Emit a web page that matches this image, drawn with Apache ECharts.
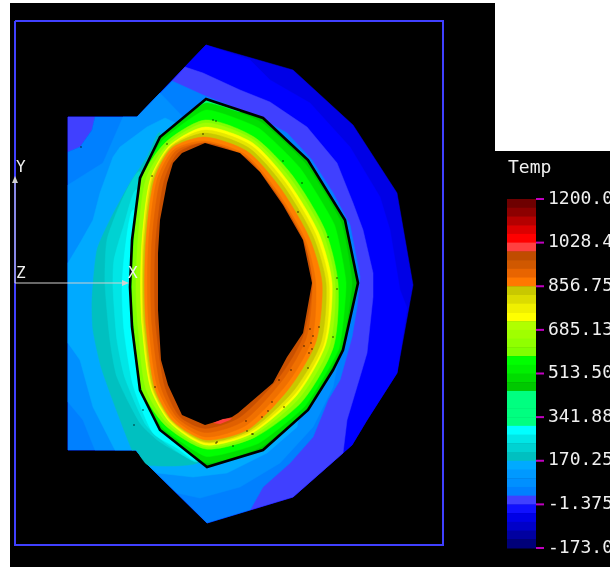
<!DOCTYPE html>
<html><head><meta charset="utf-8">
<style>html,body{margin:0;padding:0;background:#fff}#c{width:610px;height:567px}</style>
<script src="https://cdn.jsdelivr.net/npm/echarts@6/dist/echarts.min.js"></script>
</head><body><div id="c"></div>
<script>
// Colour bar, top (hot) to bottom (cold)
const barColors = ['#6e0000','#8c0000','#b40000','#dc0000','#ff0000','#ff4040','#c04c00','#d05800','#e86400','#ff7800',
'#c8c800','#dcdc00','#f0f000','#ffff00','#b0ff00','#a0ff00','#90ff00','#80ff00','#00ff00','#00f000','#00dc00','#00c800',
'#00ff80','#00ff80','#00ff80','#00ff80','#00ffff','#00e6e6','#00d2d2','#00c0c0','#00aaff','#0099ff','#0090ff','#0080ff',
'#4040ff','#1010ff','#0000e6','#0000c8','#0000a0','#000078'];
const tickValues = [1200,1028.4,856.75,685.13,513.5,341.88,170.25,-1.375,-173];
const tickLabels = ['1200.0','1028.4','856.75','685.13','513.50','341.88','170.25','-1.375','-173.0'];
const legendTitle = 'Temp';

// Contour bands: [x, y] vertices, painted outermost first
const body = [[68,117],[137,117],[206,45],[293,70],[353,125],[397,193],[413,285],[397,373],[367,420],[352,445],[293,497],[207,523],[148,465],[136,450],[68,450]];
const blue = [[206,45],[250,60],[270,80],[310,103],[350,147],[380,197],[390,230],[400,290],[407,308],[397,373],[367,420],[352,445],[293,497],[207,523],[148,465],[136,450],[68,450],[68,117],[137,117]];
const violet = [[172,81],[185,67],[203,73],[240,90],[270,102],[307,127],[337,163],[353,203],[363,230],[373,273],[373,297],[367,353],[362,370],[347,420],[343,453],[293,497],[250,510]];
const violetCorner = [[68,117],[95,117],[92,130],[80,147],[68,152],[68,117]];
const sky1 = [[172,81],[203,95],[260,118],[287,133],[312,160],[333,193],[350,225],[360,277],[357,307],[352,337],[340,380],[328,400],[313,437],[290,463],[263,487],[250,510],[207,523],[148,465],[136,450],[68,450],[68,152],[80,147],[92,130],[95,117],[137,117]];
const sky2 = [[160,93],[183,117],[210,200],[338,362],[333,387],[313,427],[280,463],[240,487],[200,498],[177,493],[148,465],[136,450],[95,450],[83,420],[68,402],[68,185],[103,163],[123,117],[137,117]];
const sky3 = [[178,124],[165,118],[147,127],[120,147],[113,157],[100,193],[93,220],[80,243],[68,263],[68,343],[80,360],[93,407],[115,450],[136,450],[148,465],[157,473],[193,477],[227,473],[267,453],[297,427],[300,410],[210,200]];
const teal1 = [[160,133],[147,157],[130,183],[110,220],[97,250],[92,300],[93,330],[102,370],[132,450],[136,450],[148,465],[198,463],[205,440],[210,300]];
const teal2 = [[140,172],[122,200],[107,240],[105,283],[110,340],[117,377],[140,423],[160,442],[192,458],[205,440],[210,300]];
const teal3 = [[137,190],[124,225],[114,260],[113,287],[117,340],[125,378],[146,425],[168,445],[197,462],[205,440],[210,300]];
const cyan = [[134,210],[125,250],[122,287],[124,330],[133,385],[153,433],[177,448],[195,460],[205,440],[210,300]];
const wall = [[206,99],[263,118],[308,160],[345,220],[358,283],[343,350],[333,370],[308,410],[263,450],[207,467],[160,430],[140,390],[132,327],[130,287],[132,240],[140,178],[160,137]];
const spring = [[206,100],[180,120],[182,123],[208,106],[240,112],[240,110]];
const k1 = [[206,103],[261,122],[305,163],[341,222],[352,283],[341,349],[306.6,408],[261,447],[207,463],[161,429],[141,390],[133,327],[131,287],[133,240],[141,178],[161,138]];
const k2 = [[206,110],[258.5,128],[300,168],[334.5,225],[346,283],[339,348.5],[305,406],[258.5,443.3],[206.5,456.5],[163,428],[141,390],[133,327],[131,287],[133,240],[141,178],[163,140]];
const k3 = [[205.5,120],[254,137],[292,175],[325,230],[338,283],[333.5,346.7],[302,401.6],[254.5,437.4],[206,449],[166,426],[142,390],[134,327],[132,287],[134,240],[142,178],[166,142]];
const k4 = [[205.5,123],[253,139.5],[290,178],[322,231],[335,283],[329.7,345.4],[299.3,398],[253,435.2],[206,447],[168,424],[146,389],[138,327],[136,287],[138,240],[146,179],[168,144]];
const k5 = [[205.4,127],[252,142.5],[287,180],[318.5,232.5],[332,283],[325.8,344],[297,395],[251.8,433.4],[206,445],[170.5,423],[150.6,388],[142,326],[140.6,287],[142,240],[150,180],[169.6,145.6]];
const k6 = [[205.3,130],[250.4,145],[285,182],[315.6,234],[329,283],[324,343.4],[295.7,393],[250.8,432],[206,443],[171.4,422],[152,388],[143,326],[142,287],[143,240],[151,180],[170.4,146.4]];
const k7 = [[205.2,133],[249,148],[282.6,184.6],[312.7,235.4],[326,283],[321,342.3],[293.7,390.6],[249.8,430.4],[206,442],[172.3,421.6],[153,388],[144.4,326],[143,287],[144.4,240],[152.4,180.3],[171,147]];
const k8 = [[205,137],[247.5,151.5],[280,187.5],[309,237],[322,283],[316.3,340.7],[290.6,386.4],[248.8,429],[206,440],[173,421],[154.6,387.4],[146,326],[144.6,287],[146,240],[154,180.6],[172,148]];
const k9 = [[205,141],[246,155],[276.6,190.4],[305,239],[315.7,283],[312,339],[288,382.6],[246.3,425.2],[205.6,437],[175.4,419.5],[157.4,387],[148.7,326],[147.4,287],[148.7,240],[156.7,181],[174,149.6]];
const k10 = [[205,143],[245,157],[275,192],[303,240],[312,283],[306.5,337],[284,378],[243.5,421],[205.4,432.6],[177.6,418],[160.7,386.3],[152,325.5],[150.7,287],[152,240],[160,181.7],[176,151]];
const k11 = [[205,143],[245,157],[275,192],[303,240],[312,283],[303,336],[281,374.6],[240.5,416.7],[205.2,428.4],[179.8,416.5],[164.6,385.6],[155.8,325],[154.6,287],[155.8,240],[163.8,182.4],[178,153]];
const hole = [[205,143],[182,153],[173,163],[167,183],[160,220],[158,253],[158,310],[161,360],[168,385],[182,415],[205,425],[232,417],[238,413],[273,383],[287,357],[303,333],[312,283],[303,240],[283,205],[260,172],[240,153]];
const hotSliver = [[213,423],[223,419],[232,418],[230,420],[220,424]];
const specks = [[328,237],[337,278],[337,289],[319,327],[310,329],[313,336],[333,337],[304,346],[311,343],[312,349],[309,353],[308,368],[291,370],[279,380],[272,402],[284,407],[268,411],[262,417],[81,147],[213,120],[216,121],[203,134],[167,144],[152,176],[283,161],[302,183],[298,212],[155,387],[143,410],[134,425],[216,443],[233,446],[247,431],[253,434],[246,421],[252,434],[217,442]];
const frame = [[15,21],[443,21],[443,545],[15,545],[15,21]];

const bands = [
 [body,'#0000e6',0],[blue,'#0000ff',0],[violet,'#4040ff',0],[violetCorner,'#4040ff',0],[sky1,'#0080ff',0],[sky2,'#0090ff',0],[sky3,'#00aaff',0],
 [teal1,'#00c0c0',0.2],[teal2,'#00d2d2',0.2],[teal3,'#00e6e6',0.2],[cyan,'#00ffff',0.2],
 [wall,'#00c800',0],[spring,'#00ff80',0],[k1,'#00e000',0.15],[k2,'#00ff00',0.15],[k3,'#80ff00',0.25],[k4,'#a0ff00',0.25],[k5,'#ffff00',0.25],[k6,'#e6e600',0.25],[k7,'#c8c800',0.25],
 [k8,'#ff8000',0.25],[k9,'#f07000',0.25],[k10,'#e06000',0.25],[k11,'#c85000',0.25]
];
const overlays = [[wall,null,'#000',2.6],[hole,'#000',null,0],[hotSliver,'#ff4040',null,0]];
const MONO = '"DejaVu Sans Mono","Liberation Mono",monospace';
const triad = '#d0d0d0';
const barStep = (1200 + 173) / barColors.length;

const chart = echarts.init(document.getElementById('c'), null, {renderer:'canvas'});
chart.setOption({
 animation:false,
 backgroundColor:'#ffffff',
 grid:[{left:0,top:0,width:610,height:567,outerBoundsMode:'none'},{left:507,top:199,width:29,height:349,outerBoundsMode:'none'}],
 xAxis:[{type:'value',min:0,max:610,show:false,gridIndex:0},{type:'value',min:0,max:1,show:false,gridIndex:1}],
 yAxis:[{type:'value',min:0,max:567,inverse:true,show:false,gridIndex:0},
  {type:'value',min:-173,max:1200,gridIndex:1,position:'right',splitLine:{show:false},
   axisLine:{show:false},axisTick:{show:false},
   axisLabel:{show:true,margin:12,customValues:tickValues,color:'#f0f0f0',fontFamily:MONO,fontSize:18,
     formatter:v=>tickLabels[tickValues.indexOf(v)]}}],
 graphic:[
  {type:'rect',z:-10,shape:{x:10,y:3,width:485,height:564},style:{fill:'#000'}},
  {type:'rect',z:-10,shape:{x:495,y:151,width:115,height:416},style:{fill:'#000'}},
  {type:'polyline',z:100,shape:{points:[[15,283],[15,178]]},style:{stroke:triad,lineWidth:1,fill:null}},
  {type:'polyline',z:100,shape:{points:[[15,283],[127,283]]},style:{stroke:triad,lineWidth:1,fill:null}},
  {type:'polygon',z:100,shape:{points:[[15,176],[12,183],[18,183]]},style:{fill:triad}},
  {type:'polygon',z:100,shape:{points:[[129,283],[122,280],[122,286]]},style:{fill:triad}},
  {type:'text',z:100,style:{x:16,y:160,text:'Y',fill:'#f0f0f0',font:'16px '+MONO}},
  {type:'text',z:100,style:{x:16,y:266,text:'Z',fill:'#f0f0f0',font:'16px '+MONO}},
  {type:'text',z:100,style:{x:128,y:266,text:'X',fill:'#f0f0f0',font:'16px '+MONO}},
  {type:'text',z:100,style:{x:508,y:159,text:legendTitle,fill:'#f0f0f0',font:'18px '+MONO}}
 ],
 series:[
  {type:'custom',xAxisIndex:0,yAxisIndex:0,silent:true,clip:false,data:bands.map((b,i)=>[i]),
   encode:{x:0,y:0},
   renderItem:(p,api)=>{
     const b=bands[p.dataIndex];
     return {type:'polygon',shape:{points:b[0].map(c=>api.coord(c)),smooth:b[2]},
       style:{fill:b[1],stroke:b[1],lineWidth:0.5}};
   }},
  {type:'custom',xAxisIndex:0,yAxisIndex:0,silent:true,clip:false,z:3,data:overlays.map((b,i)=>[i]),encode:{x:0,y:0},
   renderItem:(p,api)=>{
     const o=overlays[p.dataIndex];
     return {type:'polygon',shape:{points:o[0].map(c=>api.coord(c))},style:{fill:o[1],stroke:o[2],lineWidth:o[3]}};
   }},
  {type:'custom',xAxisIndex:0,yAxisIndex:0,silent:true,clip:false,z:4,data:[0],encode:{x:0,y:0},
   renderItem:(p,api)=>({type:'polyline',shape:{points:frame.map(c=>api.coord(c))},style:{fill:null,stroke:'#4040ff',lineWidth:2}})},
  {type:'scatter',xAxisIndex:0,yAxisIndex:0,silent:true,z:5,symbolSize:1.6,itemStyle:{color:'#000'},data:specks},
  {type:'custom',xAxisIndex:1,yAxisIndex:1,silent:true,clip:false,data:barColors.map((c,i)=>[i]),encode:{x:0,y:0},
   renderItem:(p,api)=>{
     const i=p.dataIndex;
     const a=api.coord([0,1200-i*barStep]),b=api.coord([1,1200-(i+1)*barStep]);
     return {type:'rect',shape:{x:a[0],y:a[1],width:b[0]-a[0],height:b[1]-a[1]+0.5},style:{fill:barColors[i]}};
   }},
  {type:'custom',xAxisIndex:1,yAxisIndex:1,silent:true,clip:false,z:4,data:tickValues.map(v=>[1,v]),encode:{x:0,y:1},
   renderItem:(p,api)=>{
     const a=api.coord([1,api.value(1)]);
     return {type:'line',shape:{x1:a[0],y1:a[1],x2:a[0]+8,y2:a[1]},style:{stroke:'#c000c0',lineWidth:2}};
   }}
 ]
});
</script></body></html>
